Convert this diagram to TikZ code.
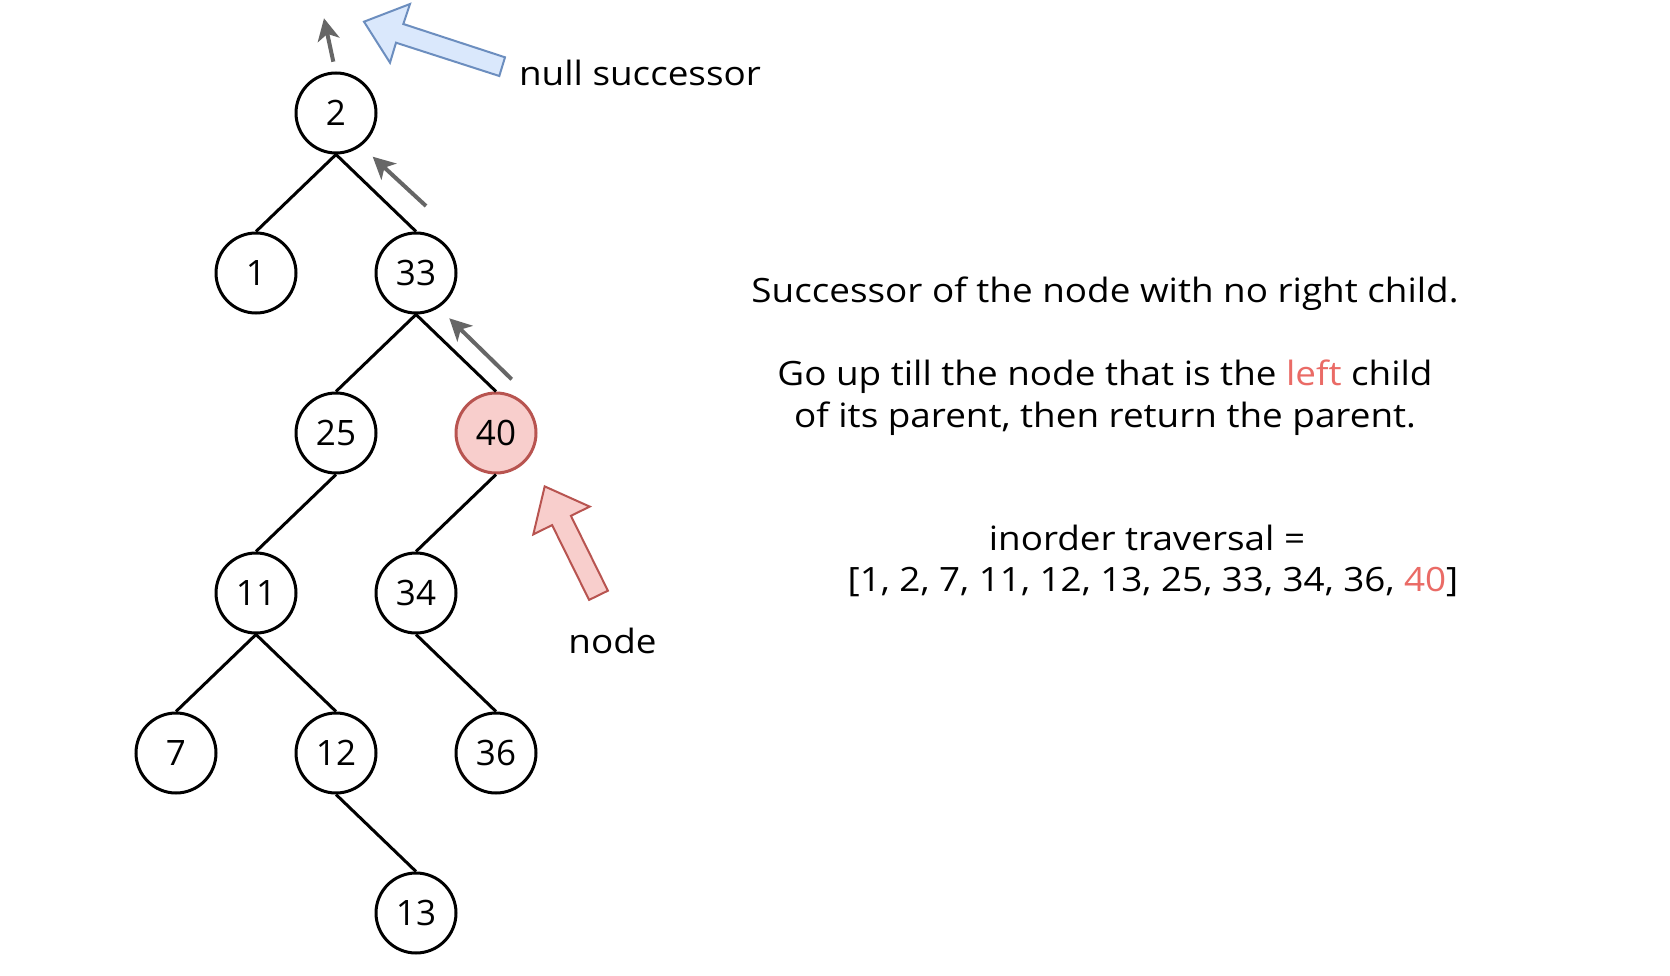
\documentclass[tikz,border=0pt]{standalone}
\usepackage{fontspec}
\setmainfont{Open Sans}
\newfontfamily\wideopen[FakeStretch=1.1]{Open Sans}
\usetikzlibrary{arrows.meta}
\definecolor{redfill}{HTML}{F8CECC}
\definecolor{redline}{HTML}{B85450}
\definecolor{bluefill}{HTML}{DAE8FC}
\definecolor{blueline}{HTML}{6C8EBF}
\definecolor{redtext}{HTML}{EA6B66}
\definecolor{graya}{HTML}{666666}
\begin{document}
\begin{tikzpicture}[x=1pt,y=-1pt,
  treenode/.style={circle,draw,line width=3pt,minimum size=80pt,inner sep=0pt,font=\fontsize{35}{35}\selectfont},
  hot/.style={fill=redfill,draw=redline},
  edge/.style={line width=3pt},
  hint/.style={draw=graya,line width=4pt,-{Stealth[length=22pt,width=22pt,inset=6pt]}},
  txt/.style={font=\wideopen\fontsize{33.5}{41}\selectfont,inner sep=0pt,anchor=base},
  blockarrow/.style={line width=2pt,line join=miter}]
\useasboundingbox[fill=white] (0,0) rectangle (1670,976);

% tree
\node[treenode] (n2)  at (336,113) {2};
\node[treenode] (n1)  at (256,273) {1};
\node[treenode] (n33) at (416,273) {33};
\node[treenode] (n25) at (336,433) {25};
\node[treenode,hot] (n40) at (496,433) {40};
\node[treenode] (n11) at (256,593) {11};
\node[treenode] (n34) at (416,593) {34};
\node[treenode] (n7)  at (176,753) {7};
\node[treenode] (n12) at (336,753) {12};
\node[treenode] (n36) at (496,753) {36};
\node[treenode] (n13) at (416,913) {13};

\draw[edge] (n2.south) -- (n1.north);
\draw[edge] (n2.south) -- (n33.north);
\draw[edge] (n33.south) -- (n25.north);
\draw[edge] (n33.south) -- (n40.north);
\draw[edge] (n25.south) -- (n11.north);
\draw[edge] (n40.south) -- (n34.north);
\draw[edge] (n11.south) -- (n7.north);
\draw[edge] (n11.south) -- (n12.north);
\draw[edge] (n34.south) -- (n36.north);
\draw[edge] (n12.south) -- (n13.north);

% small gray arrows (path upward)
\coordinate (g1a) at (333.3,61.7);
\coordinate (g1b) at (324,18.3);
\coordinate (g2a) at (426,206);
\coordinate (g2b) at (372.7,156.7);
\coordinate (g3a) at (511.7,379.3);
\coordinate (g3b) at (449.3,318.3);
\draw[hint] (g1a) -- (g1b);
\draw[hint] (g2a) -- (g2b);
\draw[hint] (g3a) -- (g3b);

% block arrows
\draw[blockarrow,draw=blueline,fill=bluefill]
  (364,21.7) -- (410,4) -- (403.3,24) -- (505,57.3) -- (499.3,76) -- (396,42.7) -- (390,62.7) -- cycle;
\draw[blockarrow,draw=redline,fill=redfill]
  (544.7,486.4) -- (589.7,506.6) -- (570.9,515.8) -- (607.9,590.7) -- (589.1,599.9) -- (552.1,525.1) -- (533.3,534.4) -- cycle;

% labels
\node[txt] (lnull) at (640,86) {null successor};
\node[txt] (lnode) at (612.5,653) {node};
\node[txt] (l1) at (1105,302) {Successor of the node with no right child.};
\node[txt] (l2) at (1105,385) {Go up till the node that is the \textcolor{redtext}{left} child};
\node[txt] (l3) at (1105,427) {of its parent, then return the parent.};
\node[txt] (l4) at (1147,550) {inorder traversal =};
\node[txt] (l5) at (1153,591) {[1, 2, 7, 11, 12, 13, 25, 33, 34, 36, \textcolor{redtext}{40}]};
\end{tikzpicture}
\end{document}
